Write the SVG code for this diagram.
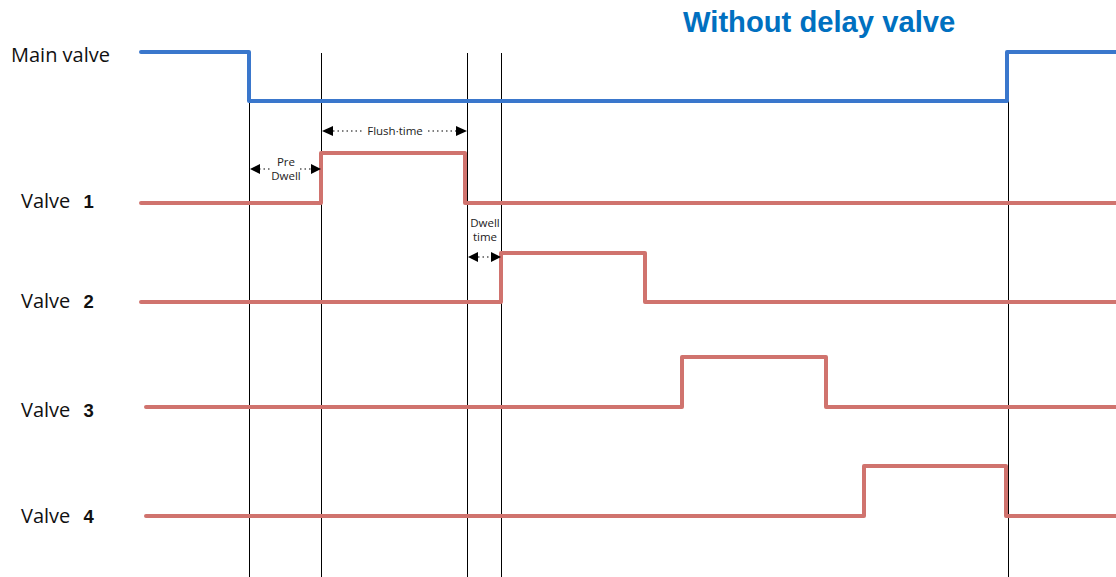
<svg xmlns="http://www.w3.org/2000/svg" width="1116" height="577" viewBox="0 0 1116 577">
<style>
.blue{fill:none;stroke:#3A77CC;stroke-width:4;stroke-linejoin:round;stroke-linecap:round}
.red{fill:none;stroke:#D0736E;stroke-width:4;stroke-linejoin:round;stroke-linecap:round}
.guide{stroke:#000;stroke-width:1;fill:none}
.dot{stroke:#000;stroke-width:1.2;stroke-dasharray:1.5 3;fill:none}
.lbl{font-family:"Open Sans","Liberation Sans",sans-serif;font-size:20px;fill:#111}
.num{font-family:"Liberation Sans",Arial,sans-serif;font-size:18.5px;font-weight:bold;fill:#111}
.small{font-family:"Open Sans","Liberation Sans",sans-serif;font-size:11.5px;fill:#222;text-anchor:middle}
.title{font-family:"Liberation Sans",Arial,sans-serif;font-size:29.2px;font-weight:bold;fill:#0070C0}
</style>
<text class="title" x="683" y="32">Without delay valve</text>
<g id="guides">
<line class="guide" x1="249.5" y1="102" x2="249.5" y2="577"/>
<line class="guide" x1="321.5" y1="53" x2="321.5" y2="577"/>
<line class="guide" x1="467.5" y1="53" x2="467.5" y2="577"/>
<line class="guide" x1="501.5" y1="53" x2="501.5" y2="577"/>
<line class="guide" x1="1008.5" y1="52" x2="1008.5" y2="577"/>
</g>
<g id="main-valve">
<text class="lbl" x="11" y="62">Main valve</text>
<polyline class="blue" points="141,52 249,52 249,101 1007,101 1007,52 1118,52"/>
</g>
<g id="valve-1">
<text class="lbl" x="21" y="208">Valve <tspan class="num" dx="8">1</tspan></text>
<polyline class="red" points="141,203 321,203 321,153 465,153 465,203 1118,203"/>
</g>
<g id="valve-2">
<text class="lbl" x="21" y="308">Valve <tspan class="num" dx="8">2</tspan></text>
<polyline class="red" points="141,302 501,302 501,253 645,253 645,302 1118,302"/>
</g>
<g id="valve-3">
<text class="lbl" x="21" y="417">Valve <tspan class="num" dx="8">3</tspan></text>
<polyline class="red" points="146,407 682,407 682,357 826,357 826,407 1118,407"/>
</g>
<g id="valve-4">
<text class="lbl" x="21" y="523">Valve <tspan class="num" dx="8">4</tspan></text>
<polyline class="red" points="146,516 864,516 864,466 1006,466 1006,516 1118,516"/>
</g>
<g id="connectors">
<line class="dot" x1="333" y1="131" x2="362" y2="131"/>
<line class="dot" x1="428" y1="131" x2="456" y2="131"/>
<path d="M322,131 L333,126 L333,136 Z" fill="#000"/>
<path d="M467,131 L456,126 L456,136 Z" fill="#000"/>
<line class="dot" x1="259" y1="169" x2="272" y2="169"/>
<line class="dot" x1="300" y1="169" x2="311" y2="169"/>
<path d="M250,169 L260,164 L260,174 Z" fill="#000"/>
<path d="M321,169 L311,164 L311,174 Z" fill="#000"/>
<line class="dot" x1="478" y1="257" x2="491" y2="257"/>
<path d="M468,257 L478,252 L478,262 Z" fill="#000"/>
<path d="M501,257 L491,252 L491,262 Z" fill="#000"/>
</g>
<g id="annotations">
<text class="small" x="395" y="135">Flush·time</text>
<text class="small" x="286" y="166">Pre</text>
<text class="small" x="286" y="180">Dwell</text>
<text class="small" x="485" y="227">Dwell</text>
<text class="small" x="485" y="241">time</text>
</g>
</svg>
